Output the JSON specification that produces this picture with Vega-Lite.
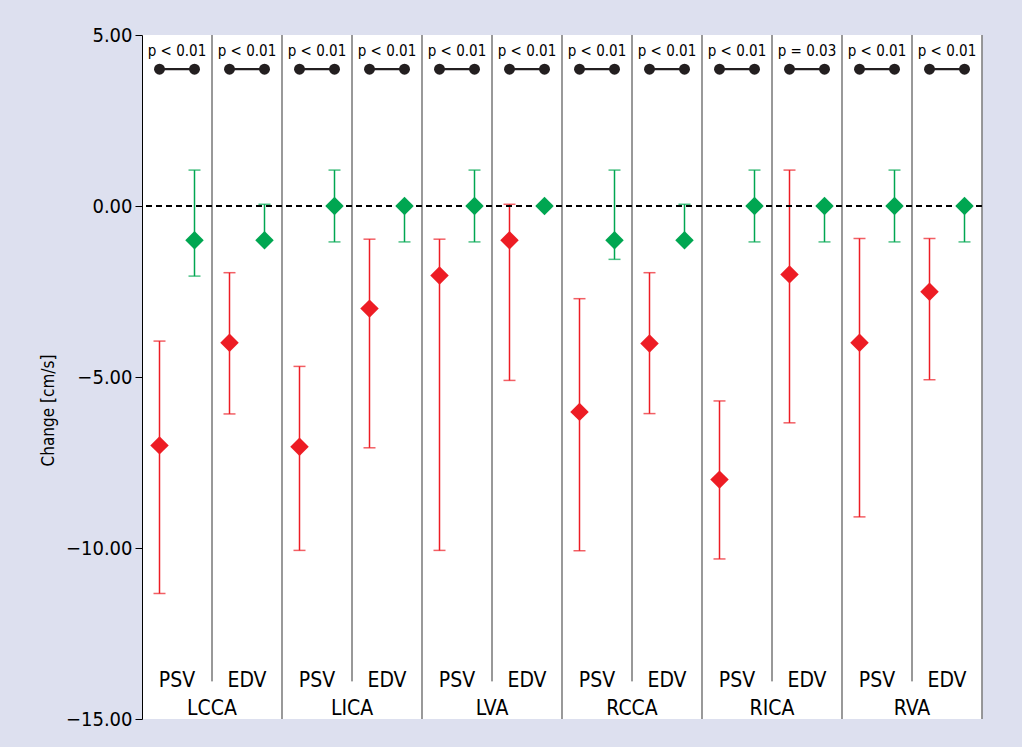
{
  "$schema": "https://vega.github.io/schema/vega-lite/v6.json",
  "width": 840,
  "height": 684,
  "autosize": {"type": "none"},
  "padding": {"left": 142, "top": 35, "right": 40, "bottom": 28},
  "background": "#dde0ef",
  "config": {
    "view": {"fill": "white", "stroke": null},
    "font": "Liberation Sans Narrow, DejaVu Sans Condensed, sans-serif"
  },
  "datasets": {
    "panels": [
      {"panel": "LCCA PSV", "group": "LCCA", "measure": "PSV", "p": "p < 0.01"},
      {"panel": "LCCA EDV", "group": "LCCA", "measure": "EDV", "p": "p < 0.01"},
      {"panel": "LICA PSV", "group": "LICA", "measure": "PSV", "p": "p < 0.01"},
      {"panel": "LICA EDV", "group": "LICA", "measure": "EDV", "p": "p < 0.01"},
      {"panel": "LVA PSV", "group": "LVA", "measure": "PSV", "p": "p < 0.01"},
      {"panel": "LVA EDV", "group": "LVA", "measure": "EDV", "p": "p < 0.01"},
      {"panel": "RCCA PSV", "group": "RCCA", "measure": "PSV", "p": "p < 0.01"},
      {"panel": "RCCA EDV", "group": "RCCA", "measure": "EDV", "p": "p < 0.01"},
      {"panel": "RICA PSV", "group": "RICA", "measure": "PSV", "p": "p < 0.01"},
      {"panel": "RICA EDV", "group": "RICA", "measure": "EDV", "p": "p = 0.03"},
      {"panel": "RVA PSV", "group": "RVA", "measure": "PSV", "p": "p < 0.01"},
      {"panel": "RVA EDV", "group": "RVA", "measure": "EDV", "p": "p < 0.01"}
    ],
    "values": [
      {"panel": "LCCA PSV", "series": "A", "value": -7.0, "low": -11.33, "high": -3.95},
      {"panel": "LCCA PSV", "series": "B", "value": -1.0, "low": -2.05, "high": 1.05},
      {"panel": "LCCA EDV", "series": "A", "value": -4.0, "low": -6.08, "high": -1.95},
      {"panel": "LCCA EDV", "series": "B", "value": -1.0, "low": -1.0, "high": 0.05},
      {"panel": "LICA PSV", "series": "A", "value": -7.04, "low": -10.07, "high": -4.69},
      {"panel": "LICA PSV", "series": "B", "value": 0.0, "low": -1.05, "high": 1.05},
      {"panel": "LICA EDV", "series": "A", "value": -3.0, "low": -7.07, "high": -0.97},
      {"panel": "LICA EDV", "series": "B", "value": 0.0, "low": -1.05, "high": 0.0},
      {"panel": "LVA PSV", "series": "A", "value": -2.03, "low": -10.07, "high": -0.97},
      {"panel": "LVA PSV", "series": "B", "value": 0.0, "low": -1.05, "high": 1.05},
      {"panel": "LVA EDV", "series": "A", "value": -1.0, "low": -5.1, "high": 0.05},
      {"panel": "LVA EDV", "series": "B", "value": 0.0, "low": 0.0, "high": 0.0},
      {"panel": "RCCA PSV", "series": "A", "value": -6.02, "low": -10.08, "high": -2.71},
      {"panel": "RCCA PSV", "series": "B", "value": -1.0, "low": -1.56, "high": 1.05},
      {"panel": "RCCA EDV", "series": "A", "value": -4.02, "low": -6.07, "high": -1.95},
      {"panel": "RCCA EDV", "series": "B", "value": -1.0, "low": -1.0, "high": 0.05},
      {"panel": "RICA PSV", "series": "A", "value": -8.0, "low": -10.32, "high": -5.7},
      {"panel": "RICA PSV", "series": "B", "value": 0.0, "low": -1.05, "high": 1.05},
      {"panel": "RICA EDV", "series": "A", "value": -2.0, "low": -6.34, "high": 1.05},
      {"panel": "RICA EDV", "series": "B", "value": 0.0, "low": -1.05, "high": 0.0},
      {"panel": "RVA PSV", "series": "A", "value": -4.0, "low": -9.09, "high": -0.95},
      {"panel": "RVA PSV", "series": "B", "value": 0.0, "low": -1.05, "high": 1.05},
      {"panel": "RVA EDV", "series": "A", "value": -2.51, "low": -5.08, "high": -0.95},
      {"panel": "RVA EDV", "series": "B", "value": 0.0, "low": -1.05, "high": 0.0}
    ]
  },
  "layer": [
    {
      "data": {"name": "values"},
      "mark": {"type": "rule", "strokeWidth": 1.5},
      "encoding": {
        "x": {"field": "panel", "type": "nominal", "axis": null,
              "scale": {"domain": ["LCCA PSV","LCCA EDV","LICA PSV","LICA EDV","LVA PSV","LVA EDV","RCCA PSV","RCCA EDV","RICA PSV","RICA EDV","RVA PSV","RVA EDV"], "paddingInner": 0, "paddingOuter": 0}},
        "xOffset": {"field": "series", "type": "nominal", "scale": {"domain": ["A", "B"], "paddingInner": 0, "paddingOuter": 0}},
        "y": {"field": "low", "type": "quantitative", "title": "Change [cm/s]",
              "scale": {"domain": [-15, 5], "nice": false, "zero": false},
              "axis": {"values": [5, 0, -5, -10, -15], "format": ".2f", "grid": false,
                       "domainColor": "black", "domainWidth": 1, "tickColor": "black", "tickSize": 7, "tickWidth": 1,
                       "labelFontSize": 20, "labelColor": "black", "labelPadding": 3,
                       "titleFontSize": 17, "titleFontWeight": "normal", "titleColor": "black",
                       "titleAngle": 270, "titleX": -94, "titleY": 375, "titleAlign": "center", "titleBaseline": "middle"}},
        "y2": {"field": "high"},
        "color": {"field": "series", "type": "nominal", "legend": null,
                  "scale": {"domain": ["A", "B"], "range": ["#ed1c24", "#00a651"]}}
      }
    },
    {
      "data": {"name": "panels"},
      "transform": [{"filter": "datum.measure === 'EDV'"}],
      "mark": {"type": "rule", "color": "#333333", "strokeWidth": 1},
      "encoding": {
        "x": {"field": "panel", "type": "nominal", "bandPosition": 0},
        "y": {"datum": 5, "type": "quantitative"},
        "y2": {"datum": -13.9}
      }
    },
    {
      "data": {"name": "panels"},
      "transform": [{"filter": "datum.measure === 'PSV' && datum.group !== 'LCCA'"}],
      "mark": {"type": "rule", "color": "#808080", "strokeWidth": 1.6},
      "encoding": {
        "x": {"field": "panel", "type": "nominal", "bandPosition": 0},
        "y": {"datum": 5, "type": "quantitative"},
        "y2": {"datum": -15}
      }
    },
    {
      "data": {"name": "panels"},
      "transform": [{"filter": "datum.panel === 'RVA EDV'"}],
      "mark": {"type": "rule", "color": "#808080", "strokeWidth": 1.6},
      "encoding": {
        "x": {"field": "panel", "type": "nominal", "bandPosition": 1},
        "y": {"datum": 5, "type": "quantitative"},
        "y2": {"datum": -15}
      }
    },
    {
      "data": {"name": "panels"},
      "mark": {"type": "rule", "color": "black", "strokeWidth": 1.2, "strokeDash": [6, 4]},
      "encoding": {
        "y": {"datum": 0, "type": "quantitative"}
      }
    },
    {
      "data": {"name": "values"},
      "mark": {"type": "tick", "size": 12, "thickness": 1.5, "orient": "horizontal"},
      "encoding": {
        "x": {"field": "panel", "type": "nominal"},
        "xOffset": {"field": "series", "type": "nominal"},
        "y": {"field": "low", "type": "quantitative"},
        "color": {"field": "series", "type": "nominal"}
      }
    },
    {
      "data": {"name": "values"},
      "mark": {"type": "tick", "size": 12, "thickness": 1.5, "orient": "horizontal"},
      "encoding": {
        "x": {"field": "panel", "type": "nominal"},
        "xOffset": {"field": "series", "type": "nominal"},
        "y": {"field": "high", "type": "quantitative"},
        "color": {"field": "series", "type": "nominal"}
      }
    },
    {
      "data": {"name": "values"},
      "mark": {"type": "point", "shape": "diamond", "filled": true, "size": 340, "opacity": 1},
      "encoding": {
        "x": {"field": "panel", "type": "nominal"},
        "xOffset": {"field": "series", "type": "nominal"},
        "y": {"field": "value", "type": "quantitative"},
        "color": {"field": "series", "type": "nominal"}
      }
    },
    {
      "data": {"name": "values"},
      "mark": {"type": "line", "color": "#231f20", "strokeWidth": 2.2},
      "encoding": {
        "x": {"field": "panel", "type": "nominal"},
        "xOffset": {"field": "series", "type": "nominal"},
        "y": {"datum": 4, "type": "quantitative"},
        "detail": {"field": "panel", "type": "nominal"}
      }
    },
    {
      "data": {"name": "values"},
      "mark": {"type": "point", "shape": "circle", "filled": true, "size": 120, "opacity": 1, "color": "#231f20"},
      "encoding": {
        "x": {"field": "panel", "type": "nominal"},
        "xOffset": {"field": "series", "type": "nominal"},
        "y": {"datum": 4, "type": "quantitative"}
      }
    },
    {
      "data": {"name": "panels"},
      "mark": {"type": "text", "fontSize": 15, "baseline": "alphabetic", "align": "center", "color": "black"},
      "encoding": {
        "x": {"field": "panel", "type": "nominal"},
        "y": {"datum": 4.39, "type": "quantitative"},
        "text": {"field": "p"}
      }
    },
    {
      "data": {"name": "panels"},
      "mark": {"type": "text", "fontSize": 21, "baseline": "alphabetic", "align": "center", "color": "black"},
      "encoding": {
        "x": {"field": "panel", "type": "nominal"},
        "y": {"datum": -14.06, "type": "quantitative"},
        "text": {"field": "measure"}
      }
    },
    {
      "data": {"name": "panels"},
      "transform": [{"filter": "datum.measure === 'EDV'"}],
      "mark": {"type": "text", "fontSize": 21, "baseline": "alphabetic", "align": "center", "color": "black"},
      "encoding": {
        "x": {"field": "panel", "type": "nominal", "bandPosition": 0},
        "y": {"datum": -14.89, "type": "quantitative"},
        "text": {"field": "group"}
      }
    }
  ]
}
